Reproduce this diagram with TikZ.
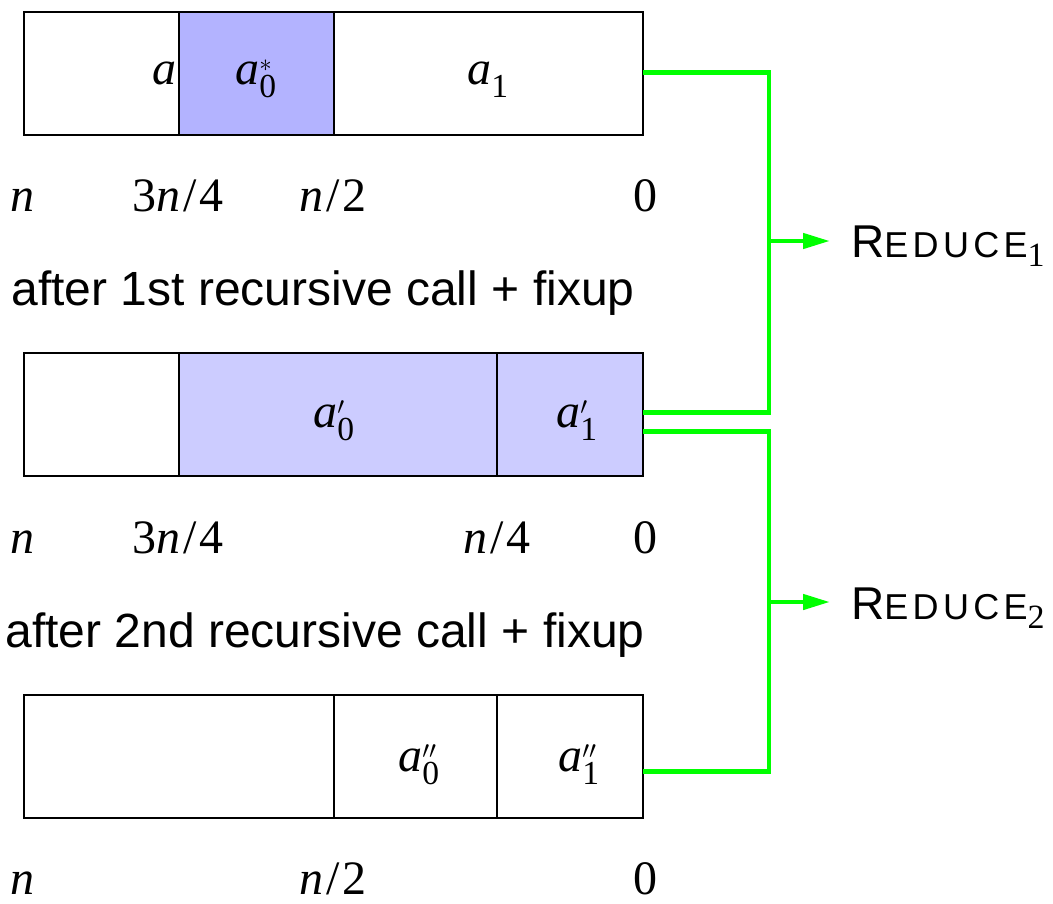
\documentclass[tikz,border=0pt]{standalone}
\usepackage{amsmath}
\usepackage{fontspec}
\setmainfont{Liberation Serif}
\newfontfamily\hv{Liberation Sans}
\usetikzlibrary{arrows.meta,calc}
\definecolor{shadeA}{HTML}{B3B3FF}
\definecolor{shadeB}{HTML}{CCCCFF}
\definecolor{gr}{HTML}{00FF00}
\newcommand\redname[1]{{\hv\fontsize{46}{52}\selectfont R{\fontsize{36}{42}\selectfont\addfontfeature{LetterSpace=12}EDUCE}}{\fontsize{34}{40}\selectfont\raisebox{-9pt}{#1}}}
\newcommand\myslash{\kern3pt/\kern3pt}
\begin{document}
\begin{tikzpicture}[x=1pt,y=-1pt,
  seg/.style={draw, line width=1.2pt, anchor=north west, minimum height=123, inner sep=0, outer sep=0},
  lbl/.style={font=\fontsize{48}{56}\selectfont, inner sep=0, anchor=base},
  captxt/.style={font=\hv\fontsize{48}{56}\selectfont, inner sep=0, anchor=base},
  gline/.style={draw=gr, line width=4.5pt},
  garrow/.style={draw=gr, line width=4.5pt, -{Triangle[length=27pt,width=15pt]}},
  redlbl/.style={inner sep=0, anchor=base west}]
\useasboundingbox (0,0) rectangle (1053,903);
% ---- box 1
\node[seg, minimum width=155] (s11) at (24,12) {};
\node[seg, minimum width=155, fill=shadeA] (s12) at (179,12) {};
\node[seg, minimum width=309] (s13) at (334,12) {};
\draw[line width=2.5pt] (s12.north east) -- (s12.south east);
\node[seg, minimum width=619, draw, fill=none] (box1) at (24,12) {};
\node[lbl, anchor=base east] (ta) at (177,84) {\textit{a}};
\node[lbl] (ta0s) at (256,84) {$\textit{a}^{*}_{\text{0}}$};
\node[lbl] (ta1) at (488,84) {$\textit{a}_{\text{1}}$};
\node[lbl] (l11) at (22,211) {\textit{n}};
\node[lbl] (l12) at (178,211) {3\textit{n}\myslash 4};
\node[lbl] (l13) at (333,211) {\textit{n}\myslash 2};
\node[lbl] (l14) at (645,211) {0};
\node[captxt] (c1) at (323,305) {after 1st recursive call + fixup};
% ---- box 2
\node[seg, minimum width=155] (s21) at (24,353) {};
\node[seg, minimum width=318, fill=shadeB] (s22) at (179,353) {};
\node[seg, minimum width=146, fill=shadeB] (s23) at (497,353) {};
\node[seg, minimum width=619, fill=none] (box2) at (24,353) {};
\node[lbl] (ta0p) at (334,427) {$\textit{a}'_{\text{0}}$};
\node[lbl] (ta1p) at (577,427) {$\textit{a}'_{\text{1}}$};
\node[lbl] (l21) at (22,553) {\textit{n}};
\node[lbl] (l22) at (178,553) {3\textit{n}\myslash 4};
\node[lbl] (l23) at (497,553) {\textit{n}\myslash 4};
\node[lbl] (l24) at (645,553) {0};
\node[captxt] (c2) at (325,647) {after 2nd recursive call + fixup};
% ---- box 3
\node[seg, minimum width=310] (s31) at (24,695) {};
\node[seg, minimum width=163] (s32) at (334,695) {};
\node[seg, minimum width=146] (s33) at (497,695) {};
\node[seg, minimum width=619, fill=none] (box3) at (24,695) {};
\node[lbl] (ta0pp) at (419,771) {$\textit{a}''_{\text{0}}$};
\node[lbl] (ta1pp) at (579,771) {$\textit{a}''_{\text{1}}$};
\node[lbl] (l31) at (22,894) {\textit{n}};
\node[lbl] (l32) at (333,894) {\textit{n}\myslash 2};
\node[lbl] (l33) at (645,894) {0};
% ---- reduce
\node[redlbl] (r1) at (851,257) {\redname{1}};
\node[redlbl] (r2) at (851,619) {\redname{2}};
\coordinate (j1) at (769,241);
\coordinate (j2) at (769,602);
\draw[gline] ($(box1.east)+(0,-1)$) -| (j1) |- ($(box2.east)+(0,-2)$);
\draw[gline] ($(box2.east)+(0,17)$) -| (j2) |- ($(box3.east)+(0,15)$);
\draw[garrow] (j1) -- ([xshift=-21pt]r1.west |- j1);
\draw[garrow] (j2) -- ([xshift=-21pt]r2.west |- j2);
\end{tikzpicture}
\end{document}
